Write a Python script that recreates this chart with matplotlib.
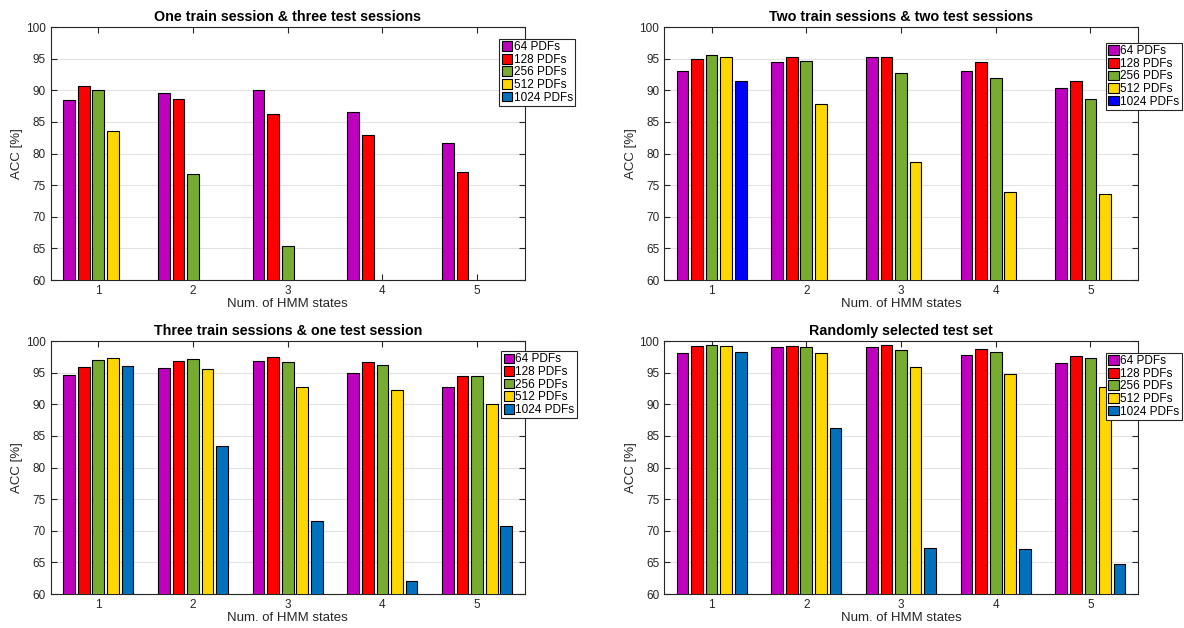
import numpy as np
import matplotlib
matplotlib.use("Agg")
import matplotlib.pyplot as plt

plt.rcParams['font.family'] = ['Liberation Sans', 'DejaVu Sans']

# --- data ---
states = [1, 2, 3, 4, 5]
pdf_labels = ["64 PDFs", "128 PDFs", "256 PDFs", "512 PDFs", "1024 PDFs"]

titles = [
    "One train session & three test sessions",
    "Two train sessions & two test sessions",
    "Three train sessions & one test session",
    "Randomly selected test set",
]

# rows = HMM states, columns = PDFs (0 = no result)
acc_one_train = [
    [88.4, 90.6, 90.1, 83.5, 0],
    [89.6, 88.6, 76.7, 0, 0],
    [90.0, 86.2, 65.4, 0, 0],
    [86.5, 82.9, 0, 0, 0],
    [81.7, 77.1, 0, 0, 0],
]
acc_two_train = [
    [93.1, 94.9, 95.6, 95.2, 91.5],
    [94.4, 95.2, 94.6, 87.9, 0],
    [95.2, 95.3, 92.8, 78.6, 0],
    [93.1, 94.4, 92.0, 74.0, 0],
    [90.4, 91.5, 88.7, 73.6, 0],
]
acc_three_train = [
    [94.6, 95.9, 97.0, 97.3, 96.1],
    [95.7, 96.8, 97.1, 95.6, 83.4],
    [96.8, 97.4, 96.7, 92.8, 71.5],
    [95.0, 96.7, 96.2, 92.3, 62.0],
    [92.7, 94.4, 94.4, 90.0, 70.8],
]
acc_random = [
    [98.1, 99.2, 99.4, 99.2, 98.2],
    [99.0, 99.2, 99.0, 98.1, 86.3],
    [99.0, 99.3, 98.6, 95.9, 67.3],
    [97.8, 98.7, 98.3, 94.8, 67.1],
    [96.5, 97.6, 97.3, 92.7, 64.7],
]

all_acc = [acc_one_train, acc_two_train, acc_three_train, acc_random]

colors_std = ["#BF00BF", "#FF0000", "#77AC30", "#FFD700", "#0072BD"]
colors_p2 = ["#BF00BF", "#FF0000", "#77AC30", "#FFD700", "#0000FF"]

# axes placement (figure fraction)
positions = [
    [0.043, 0.554, 0.400, 0.403],
    [0.561, 0.554, 0.400, 0.403],
    [0.043, 0.054, 0.400, 0.403],
    [0.561, 0.054, 0.400, 0.403],
]
legend_anchor = [(0.947, 0.953), (0.933, 0.937), (0.951, 0.96), (0.933, 0.953)]

fig = plt.figure(figsize=(11.84, 6.28), dpi=100)

n = len(pdf_labels)
group_w = n / (n + 1.5)
step = group_w / n
bar_w = 0.8 * step
x = np.array(states, dtype=float)

for k in range(4):
    ax = fig.add_axes(positions[k])
    data = np.array(all_acc[k])
    cols = colors_p2 if k == 1 else colors_std
    for j in range(n):
        offs = (j - (n - 1) / 2) * step
        ax.bar(x + offs, data[:, j], width=bar_w, color=cols[j],
               edgecolor="black", linewidth=0.8, label=pdf_labels[j], zorder=3)
    ax.set_xlim(0.5, 5.5)
    ax.set_ylim(60, 100)
    ax.set_xticks(states)
    ax.set_yticks(np.arange(60, 101, 5))
    ax.grid(axis="y", color="#e3e3e3", linewidth=0.8, zorder=0)
    ax.tick_params(direction="in", top=True, right=True, labelsize=8.5,
                   length=4, width=0.8, colors="#262626")
    for s in ax.spines.values():
        s.set_linewidth(0.8)
        s.set_color("#262626")
    ax.set_xlabel("Num. of HMM states", fontsize=9.5, labelpad=1, color="#262626")
    ax.set_ylabel("ACC [%]", fontsize=9.5, labelpad=2, color="#262626")
    ax.set_title(titles[k], fontsize=10.3, fontweight="bold", pad=4)
    leg = ax.legend(loc="upper left", bbox_to_anchor=legend_anchor[k],
                    fontsize=8.5, handlelength=0.9, handleheight=0.9,
                    handletextpad=0.1, labelspacing=0.05, borderpad=0.2,
                    borderaxespad=0, fancybox=False, framealpha=1)
    leg.get_frame().set_edgecolor("#262626")
    leg.get_frame().set_linewidth(0.8)
    leg.set_zorder(5)

fig.savefig("out.png", dpi=100)
